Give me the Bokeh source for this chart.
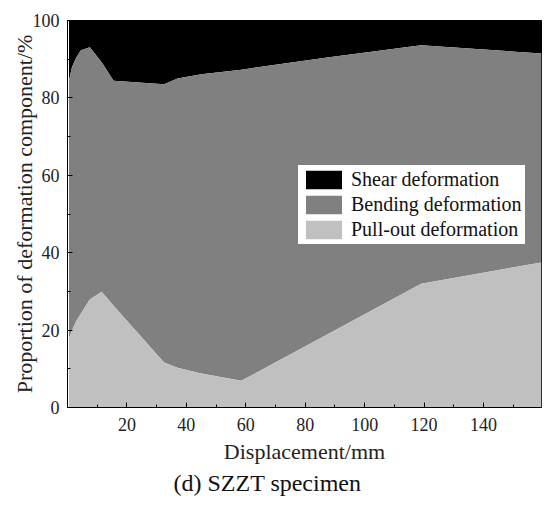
import numpy as np
from bokeh.plotting import figure
from bokeh.models import Range1d, FixedTicker, Legend, LegendItem, Title
from bokeh.embed import file_html
from bokeh.resources import INLINE

# Displacement (mm) and share of each deformation component (%)
displacement = [0.5, 1.5, 3.0, 4.5, 7.5, 11.5, 15.5, 32.5, 37.0, 45.0, 58.5, 88.0, 119.0, 159.5]
pullout = [17.8, 19.9, 22.4, 24.2, 27.9, 29.9, 26.3, 11.6, 10.3, 8.8, 6.9, 19.1, 32.0, 37.5]
bending = [66.7, 68.0, 68.1, 68.1, 65.2, 59.3, 58.1, 71.9, 74.7, 77.3, 80.4, 71.4, 61.6, 54.0]
shear = [15.5, 12.1, 9.5, 7.7, 6.9, 10.8, 15.6, 16.5, 15.0, 13.9, 12.7, 9.5, 6.4, 8.5]

x_ticks = [20, 40, 60, 80, 100, 120, 140]
x_minor = [10, 30, 50, 70, 90, 110, 130, 150]
y_ticks = [0, 20, 40, 60, 80, 100]
y_minor = [10, 30, 50, 70, 90]

FONT = "Liberation Serif"

x = np.array(displacement)
p_top = np.array(pullout)
b_top = p_top + np.array(bending)
s_top = b_top + np.array(shear)

p = figure(width=550, height=507, output_backend="svg", toolbar_location=None,
           x_range=Range1d(0, 159.5), y_range=Range1d(0, 100),
           min_border_left=67, min_border_right=9, min_border_top=20, min_border_bottom=100)
p.background_fill_color = "white"
p.border_fill_color = "white"
p.outline_line_color = "black"
p.outline_line_width = 1
p.grid.visible = False

r_shear = p.varea(x=x, y1=b_top, y2=s_top, fill_color="#000000")
r_bend = p.varea(x=x, y1=p_top, y2=b_top, fill_color="#808080")
r_pull = p.varea(x=x, y1=0, y2=p_top, fill_color="#c0c0c0")

p.xaxis.ticker = FixedTicker(ticks=x_ticks, minor_ticks=x_minor)
p.yaxis.ticker = FixedTicker(ticks=y_ticks, minor_ticks=y_minor)
for ax in (p.xaxis[0], p.yaxis[0]):
    ax.axis_line_color = "black"
    ax.major_tick_in = 5
    ax.major_tick_out = 0
    ax.minor_tick_in = 3
    ax.minor_tick_out = 0
    ax.major_tick_line_color = "black"
    ax.minor_tick_line_color = "black"
    ax.major_label_text_font = FONT
    ax.major_label_text_font_size = "18px"
    ax.major_label_text_color = "#222222"
    ax.axis_label_text_font = FONT
    ax.axis_label_text_font_size = "22px"
    ax.axis_label_text_font_style = "normal"
    ax.axis_label_text_color = "#222222"
p.xaxis.axis_label = "Displacement/mm"
p.yaxis.axis_label = "Proportion of deformation component/%"
p.xaxis.major_label_standoff = 10
p.yaxis.major_label_standoff = 8
p.xaxis.axis_label_standoff = 5
p.yaxis.axis_label_standoff = -7

legend = Legend(items=[
    LegendItem(label="Shear deformation", renderers=[r_shear]),
    LegendItem(label="Bending deformation", renderers=[r_bend]),
    LegendItem(label="Pull-out deformation", renderers=[r_pull]),
], location=(230, 162))
legend.label_text_font = FONT
legend.label_text_font_size = "20px"
legend.label_text_color = "#111111"
legend.glyph_width = 45
legend.glyph_height = 23
legend.label_height = 23
legend.label_standoff = 5
legend.spacing = 2
legend.padding = 3
legend.margin = 0
legend.border_line_color = "black"
legend.border_line_width = 1
legend.background_fill_color = "white"
legend.background_fill_alpha = 1
p.add_layout(legend, "center")

caption = Title(text="(d) SZZT specimen", align="left", offset=106, standoff=3,
                text_font=FONT, text_font_size="24px", text_font_style="normal",
                text_color="#111111")
p.add_layout(caption, "below")

open("out.html", "w").write(file_html(p, INLINE))
